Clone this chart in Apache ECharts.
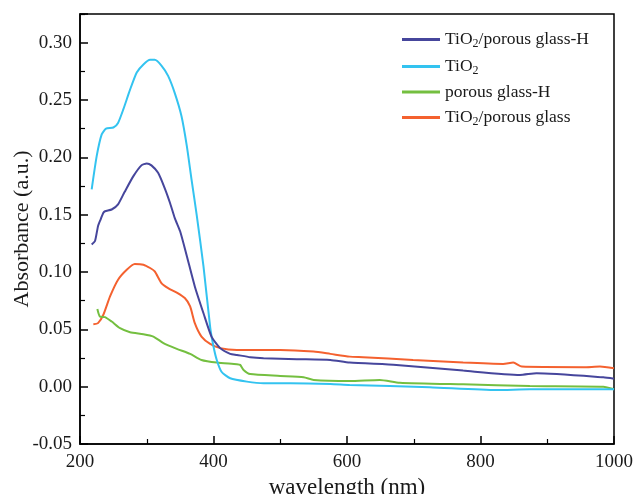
<!DOCTYPE html>
<html>
<head>
<meta charset="utf-8">
<script src="https://cdn.jsdelivr.net/npm/echarts@6/dist/echarts.min.js"></script>
<style>html,body{margin:0;padding:0;background:#fff;}#c{width:633px;height:494px;}</style>
</head>
<body>
<div id="c"></div>
<script>
// Series names
var seriesNames = ['TiO2/porous glass-H', 'TiO2', 'porous glass-H', 'TiO2/porous glass'];

// TiO2/porous glass-H
var tgH_x = [217.5, 222.5, 227, 231, 235, 237.5, 247.5, 257, 267, 280, 292, 300, 307, 317, 327, 335, 342, 350, 360, 372, 385, 397, 410, 425, 435, 455, 475, 525, 575, 604, 674, 774, 859, 884, 984, 1000];
var tgH_y = [0.124, 0.127, 0.140, 0.146, 0.1516, 0.153, 0.1545, 0.159, 0.170, 0.1836, 0.193, 0.1947, 0.193, 0.1865, 0.173, 0.160, 0.147, 0.1355, 0.114, 0.0874, 0.064, 0.0437, 0.0336, 0.0286, 0.0277, 0.0257, 0.0248, 0.024, 0.0233, 0.021, 0.019, 0.014, 0.0102, 0.0117, 0.0082, 0.007];

// TiO2
var t_x = [217.5, 225, 232.5, 239, 250, 257, 265, 275, 285, 295, 305, 312, 322, 332, 342, 352, 360, 367, 375, 385, 395, 400, 405, 412, 425, 450, 475, 515, 575, 604, 724, 824, 874, 1000];
var t_y = [0.172, 0.201, 0.220, 0.225, 0.226, 0.230, 0.242, 0.259, 0.274, 0.281, 0.285, 0.285, 0.280, 0.271, 0.256, 0.236, 0.210, 0.181, 0.149, 0.105, 0.052, 0.035, 0.023, 0.013, 0.0073, 0.0044, 0.003, 0.003, 0.0024, 0.0015, -0.0005, -0.003, -0.0023, -0.0023];

// porous glass-H
var pg_x = [226, 230, 237.5, 247.5, 260, 275, 295, 310, 325, 345, 365, 382, 405, 435, 440, 445, 455, 500, 535, 550, 604, 649, 679, 774, 874, 984, 1000];
var pg_y = [0.0677, 0.061, 0.0607, 0.0568, 0.051, 0.0475, 0.0458, 0.0437, 0.038, 0.033, 0.0286, 0.0233, 0.021, 0.0196, 0.019, 0.0146, 0.011, 0.0094, 0.0082, 0.0059, 0.005, 0.0059, 0.0035, 0.002, 0.0006, 0.0, -0.0023];

// TiO2/porous glass
var tg_x = [220, 227, 235, 245, 257, 270, 282, 295, 305, 312, 322, 332, 345, 357, 365, 372, 382, 395, 410, 435, 450, 500, 550, 575, 604, 624, 699, 774, 834, 849, 862, 954, 979, 1000];
var tg_y = [0.0545, 0.0554, 0.0627, 0.0787, 0.0933, 0.102, 0.107, 0.1064, 0.1035, 0.1005, 0.0904, 0.086, 0.082, 0.0773, 0.070, 0.0554, 0.0437, 0.0373, 0.0336, 0.032, 0.032, 0.032, 0.0306, 0.0286, 0.0262, 0.0257, 0.0233, 0.021, 0.0198, 0.021, 0.0175, 0.017, 0.0175, 0.016];

// Axis ticks
var xMin = 200, xMax = 1000, xStep = 200;
var yMin = -0.05, yMax = 0.325, yStep = 0.05;

function pairs(xs, ys) { return xs.map(function (x, i) { return [x, ys[i]]; }); }

var colors = ['#46469c', '#33c3f0', '#74bf40', '#f4612f'];
var dataSets = [pairs(tgH_x, tgH_y), pairs(t_x, t_y), pairs(pg_x, pg_y), pairs(tg_x, tg_y)];

var font = 'Liberation Serif, Times New Roman, serif';

function legendFmt(name) {
  var parts = name.split('TiO2');
  var out = '';
  for (var i = 0; i < parts.length; i++) {
    if (i > 0) out += '{a|TiO}{s|2}';
    if (parts[i]) out += '{a|' + parts[i] + '}';
  }
  return out;
}

var chart = echarts.init(document.getElementById('c'), null, {renderer: 'canvas'});
chart.setOption({
  animation: false,
  backgroundColor: '#fff',
  color: colors,
  grid: {left: 80, right: 19, top: 14, bottom: 50, containLabel: false, outerBoundsMode: 'none',
    show: true, borderColor: '#000', borderWidth: 1.5, backgroundColor: 'transparent'},
  legend: {
    orient: 'vertical', left: 397, top: 24, itemWidth: 38, itemHeight: 3, itemGap: 6,
    icon: 'rect', data: seriesNames,
    formatter: legendFmt,
    textStyle: {
      fontFamily: font, fontSize: 17.5, color: '#1a1a1a',
      rich: {
        a: {fontFamily: font, fontSize: 17.5, color: '#1a1a1a', lineHeight: 20},
        s: {fontFamily: font, fontSize: 12, color: '#1a1a1a', lineHeight: 20, padding: [9, 0, 0, 0]}
      }
    }
  },
  xAxis: {
    type: 'value', min: xMin, max: xMax, interval: xStep,
    name: 'wavelength (nm)', nameLocation: 'middle', nameGap: 30,
    nameTextStyle: {fontFamily: font, fontSize: 23, color: '#1a1a1a'},
    axisLine: {onZero: false, lineStyle: {color: '#000', width: 1.5}},
    axisTick: {inside: true, length: 8, lineStyle: {color: '#000', width: 1.5}},
    minorTick: {show: true, splitNumber: 2, length: 5, lineStyle: {color: '#000', width: 1.2}},
    axisLabel: {fontFamily: font, fontSize: 19, color: '#1a1a1a', margin: 9,
      formatter: function (v) { return String(v); }},
    splitLine: {show: false}
  },
  yAxis: {
    type: 'value', min: yMin, max: yMax, interval: yStep,
    name: 'Absorbance (a.u.)', nameLocation: 'middle', nameGap: 47, nameMoveOverlap: false,
    nameTextStyle: {fontFamily: font, fontSize: 22, color: '#1a1a1a'},
    axisLine: {show: true, onZero: false, lineStyle: {color: '#000', width: 1.5}},
    axisTick: {show: true, inside: true, length: 8, lineStyle: {color: '#000', width: 1.5}},
    minorTick: {show: true, splitNumber: 2, length: 5, lineStyle: {color: '#000', width: 1.2}},
    axisLabel: {fontFamily: font, fontSize: 19, color: '#1a1a1a', margin: 8,
      formatter: function (v) { return (Math.abs(v - 0.325) < 1e-9) ? '' : v.toFixed(2); }},
    splitLine: {show: false}
  },
  series: seriesNames.map(function (n, i) {
    return {
      name: n, type: 'line', data: dataSets[i], showSymbol: false, symbol: 'none',
      smooth: 0.2, lineStyle: {width: 2, color: colors[i]}, itemStyle: {color: colors[i]},
      z: 10 - i
    };
  })
});
</script>
</body>
</html>
